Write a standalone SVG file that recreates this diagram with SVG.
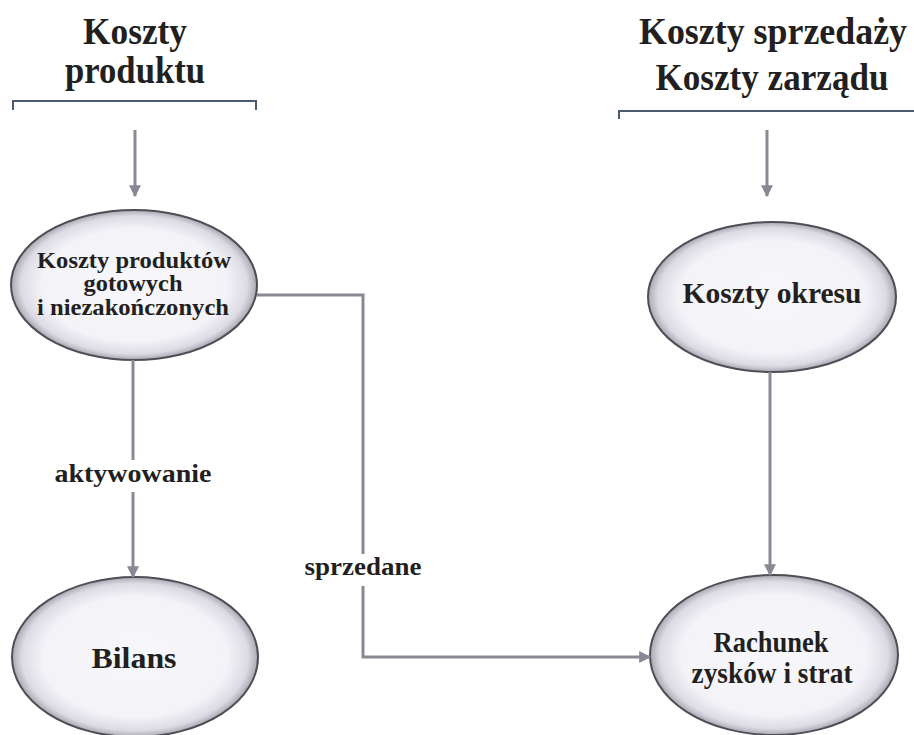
<svg xmlns="http://www.w3.org/2000/svg" width="914" height="735" viewBox="0 0 914 735">
  <defs>
    <radialGradient id="bubble" cx="50%" cy="50%" r="50%">
      <stop offset="0%" stop-color="#f7f7fb"/>
      <stop offset="75%" stop-color="#f3f3f8"/>
      <stop offset="92%" stop-color="#dcdbe3"/>
      <stop offset="100%" stop-color="#a9a8b2"/>
    </radialGradient>
    <marker id="head" viewBox="0 0 10 10" refX="9" refY="5" markerWidth="4" markerHeight="4" orient="auto" markerUnits="strokeWidth">
      <path d="M0,0 L10,5 L0,10 z" fill="#8a8894"/>
    </marker>
  </defs>
  <style>
    text { font-family: "Liberation Serif", "DejaVu Serif", serif; font-weight: bold; fill: #231f20; text-anchor: middle; }
    .title { font-size: 37px; }
    .node { font-size: 29px; }
    .small { font-size: 23px; }
    .label { font-size: 26px; }
    .ell { fill: url(#bubble); stroke: #4f4e58; stroke-width: 2; }
    .bracket { fill: none; stroke: #4d5b70; stroke-width: 2; }
    .conn { fill: none; stroke: #8a8894; stroke-width: 3; }
  </style>
  <rect width="914" height="735" fill="#ffffff"/>

  <!-- headings with brackets -->
  <g id="heading-product">
    <text class="title" x="135" y="44" textLength="104" lengthAdjust="spacingAndGlyphs">Koszty</text>
    <text class="title" x="135" y="83" textLength="140" lengthAdjust="spacingAndGlyphs">produktu</text>
    <path class="bracket" d="M13,110 V101 H256 V110"/>
  </g>
  <g id="heading-period">
    <text class="title" x="773" y="44" textLength="268" lengthAdjust="spacingAndGlyphs">Koszty sprzedaży</text>
    <text class="title" x="772" y="90" textLength="233" lengthAdjust="spacingAndGlyphs">Koszty zarządu</text>
    <path class="bracket" d="M619,119 V111 H914"/>
  </g>

  <!-- nodes -->
  <g id="node-product-costs">
    <ellipse class="ell" cx="134" cy="285" rx="123" ry="75"/>
    <text class="small" x="134" y="268" textLength="194" lengthAdjust="spacingAndGlyphs">Koszty produktów</text>
    <text class="small" x="133" y="291" textLength="99" lengthAdjust="spacingAndGlyphs">gotowych</text>
    <text class="small" x="133" y="315" textLength="192" lengthAdjust="spacingAndGlyphs">i niezakończonych</text>
  </g>
  <g id="node-period-costs">
    <ellipse class="ell" cx="772" cy="297" rx="124" ry="75"/>
    <text class="node" x="772" y="303" textLength="179" lengthAdjust="spacingAndGlyphs">Koszty okresu</text>
  </g>
  <g id="node-balance">
    <ellipse class="ell" cx="135" cy="657" rx="123" ry="80"/>
    <text class="node" x="134" y="668" textLength="85" lengthAdjust="spacingAndGlyphs">Bilans</text>
  </g>
  <g id="node-income">
    <ellipse class="ell" cx="774" cy="655" rx="124" ry="80"/>
    <text class="node" x="771" y="652" textLength="115" lengthAdjust="spacingAndGlyphs">Rachunek</text>
    <text class="node" x="772" y="683" textLength="161" lengthAdjust="spacingAndGlyphs">zysków i strat</text>
  </g>

  <!-- connectors -->
  <g id="connectors">
    <line class="conn" x1="135" y1="130" x2="135" y2="196" marker-end="url(#head)"/>
    <line class="conn" x1="767" y1="130" x2="767" y2="196" marker-end="url(#head)"/>
    <line class="conn" x1="133" y1="360" x2="133" y2="577" marker-end="url(#head)"/>
    <line class="conn" x1="770" y1="372" x2="770" y2="575" marker-end="url(#head)"/>
    <polyline class="conn" points="257,295 363,295 363,657 650,657" marker-end="url(#head)"/>
    <rect x="50" y="460" width="168" height="32" fill="#ffffff"/>
    <text class="label" x="133" y="482" textLength="157" lengthAdjust="spacingAndGlyphs">aktywowanie</text>
    <rect x="302" y="554" width="124" height="32" fill="#ffffff"/>
    <text class="label" x="363" y="575" textLength="117" lengthAdjust="spacingAndGlyphs">sprzedane</text>
  </g>
</svg>
